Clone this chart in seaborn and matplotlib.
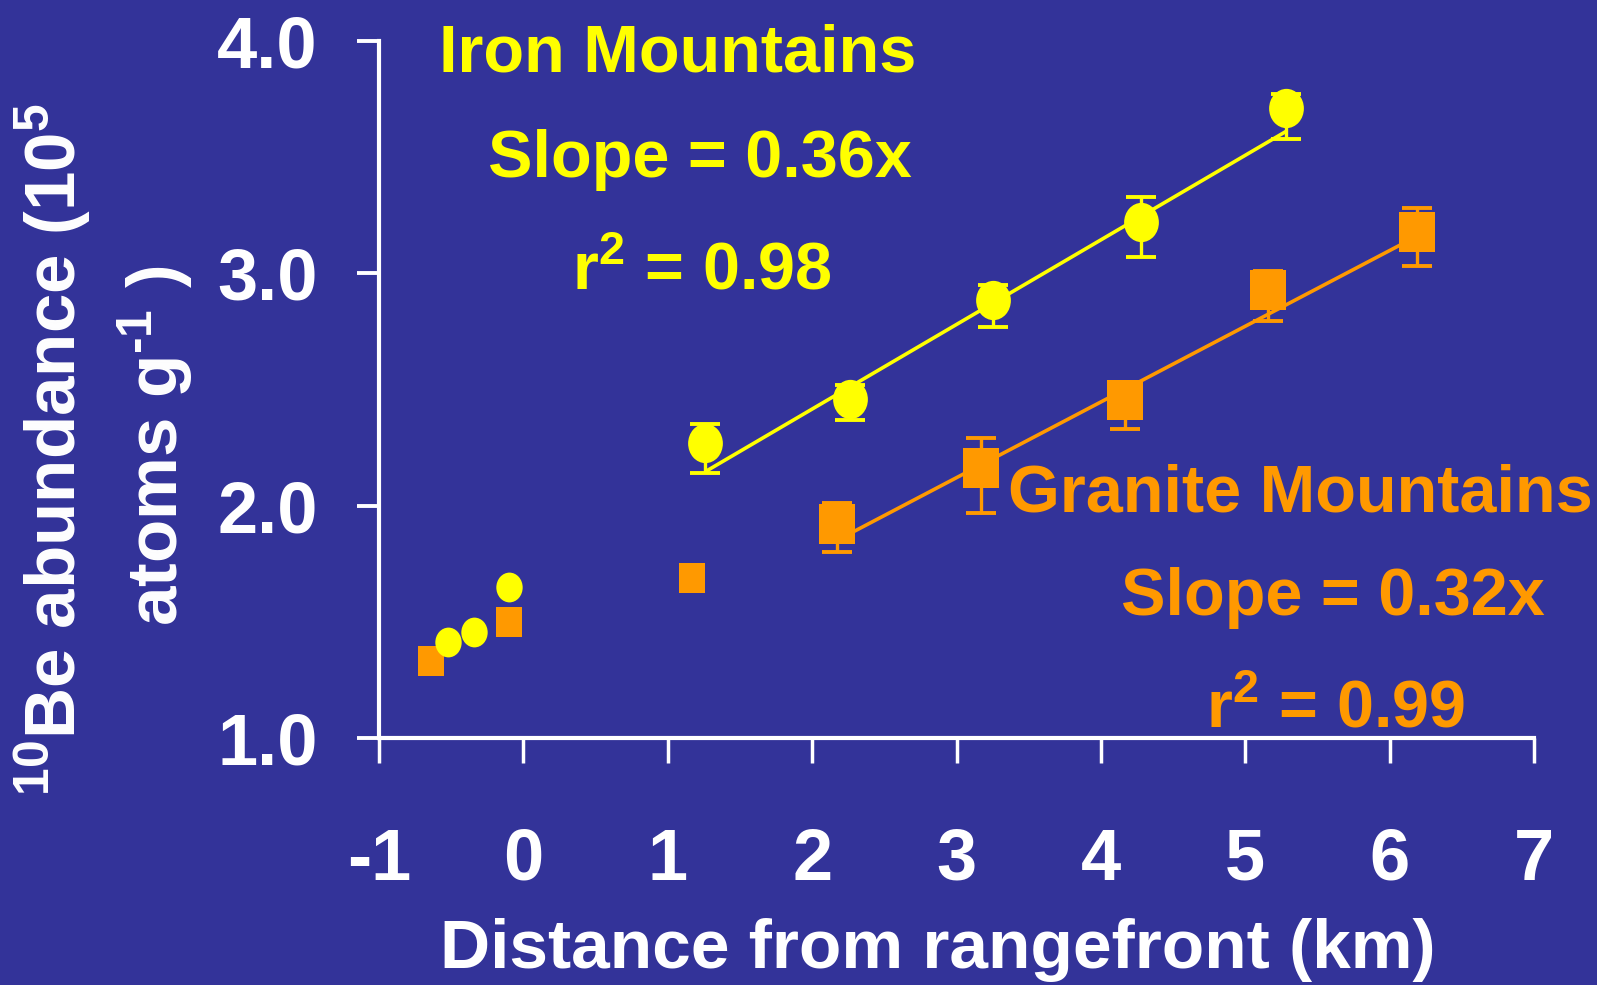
import pandas as pd
import seaborn as sns
import matplotlib.pyplot as plt
from matplotlib.path import Path

# Valores (distância em km, 10Be em 10^5 atoms/g)
iron_near_x = [-0.52, -0.34, -0.10]
iron_near_y = [1.415, 1.458, 1.649]
iron_fan_x = [1.26, 2.26, 3.25, 4.28, 5.28]
iron_fan_y = [2.27, 2.46, 2.885, 3.22, 3.71]
iron_fan_lo = [2.14, 2.37, 2.77, 3.07, 3.58]
iron_fan_hi = [2.35, 2.52, 2.95, 3.33, 3.77]
iron_fit_x = [1.27, 5.28]
iron_fit_y = [2.15, 3.61]

granite_near_x = [-0.64, -0.10, 1.17]
granite_near_y = [1.33, 1.50, 1.69]
granite_fan_x = [2.17, 3.17, 4.17, 5.16, 6.19]
granite_fan_y = [1.92, 2.16, 2.455, 2.93, 3.18]
granite_fan_lo = [1.80, 1.97, 2.33, 2.795, 3.03]
granite_fan_hi = [2.01, 2.29, 2.53, 3.01, 3.28]
granite_fit_x = [2.17, 6.19]
granite_fit_y = [1.85, 3.16]

x_ticks = [-1, 0, 1, 2, 3, 4, 5, 6, 7]
y_ticks = [1.0, 2.0, 3.0, 4.0]

iron_labels = ["Iron Mountains", "Slope = 0.36x", r"r$^{2}$ = 0.98"]
granite_labels = ["Granite Mountains", "Slope = 0.32x", r"r$^{2}$ = 0.99"]

BG = "#333399"
YELLOW = "#FFFF00"
ORANGE = "#FF9900"
W, H = 1597, 985

sns.set_theme(style="ticks", rc={
    "figure.facecolor": BG, "axes.facecolor": BG,
    "axes.edgecolor": "white", "axes.linewidth": 3,
    "xtick.color": "white", "ytick.color": "white",
    "text.color": "white", "axes.unicode_minus": False,
})
plt.rcParams["font.family"] = ["Liberation Sans", "DejaVu Sans"]
plt.rcParams["font.weight"] = "bold"
plt.rcParams["mathtext.fontset"] = "custom"
plt.rcParams["mathtext.default"] = "regular"

# marcadores: elipse e retângulo um pouco mais altos que largos
circ = Path.unit_circle()
ellipse = Path(circ.vertices * [1.0, 1.13], circ.codes)
rect = Path([(-0.9, -1), (0.9, -1), (0.9, 1), (-0.9, 1), (-0.9, -1)],
            [Path.MOVETO, Path.LINETO, Path.LINETO, Path.LINETO, Path.CLOSEPOLY])

fig = plt.figure(figsize=(W / 100, H / 100), dpi=100)
ax = fig.add_axes([379 / W, 1 - 738 / H, 1155 / W, 697 / H])


def px(x, y):
    return x / W, 1 - y / H


for fx, fy, col in [(iron_fit_x, iron_fit_y, YELLOW), (granite_fit_x, granite_fit_y, ORANGE)]:
    sns.lineplot(x=fx, y=fy, color=col, lw=2.6, ax=ax, zorder=2)

for x, y, lo, hi, col in [(iron_fan_x, iron_fan_y, iron_fan_lo, iron_fan_hi, YELLOW),
                          (granite_fan_x, granite_fan_y, granite_fan_lo, granite_fan_hi, ORANGE)]:
    df = pd.DataFrame({"x": x, "y": y, "lo": lo, "hi": hi})
    ax.errorbar(df["x"], df["y"], yerr=[df["y"] - df["lo"], df["hi"] - df["y"]],
                fmt="none", ecolor=col, elinewidth=2.4, capsize=11, capthick=2.8, zorder=3)
    sns.scatterplot(data=df, x="x", y="y", marker=ellipse if col == YELLOW else rect,
                    s=800, color=col, linewidth=0, ax=ax, zorder=4)

sns.scatterplot(x=granite_near_x, y=granite_near_y, marker=rect, s=450,
                color=ORANGE, linewidth=0, ax=ax, zorder=4)
sns.scatterplot(x=iron_near_x, y=iron_near_y, marker=ellipse, s=460,
                color=YELLOW, linewidth=0, ax=ax, zorder=5)

ax.set_xlim(-1, 7)
ax.set_ylim(1, 4)
ax.set_xticks(x_ticks)
ax.set_xticklabels([str(t) for t in x_ticks])
ax.set_yticks(y_ticks)
ax.set_yticklabels([f"{t:.1f}" for t in y_ticks])
ax.tick_params(axis="x", length=18, width=2.5, pad=46, labelsize=52)
ax.tick_params(axis="y", length=16, width=2.8, pad=28, labelsize=52)
for lab in ax.get_xticklabels() + ax.get_yticklabels():
    lab.set_fontweight("bold")
sns.despine(ax=ax)
ax.set_xlabel("")
ax.set_ylabel("")

# textos de anotação
for (cx, by), txt in zip([(678, 72), (700, 177), (702, 290)], iron_labels):
    fig.text(*px(cx, by), txt, color=YELLOW, fontsize=48, fontweight="bold",
             ha="center", va="baseline")
for (cx, by), txt in zip([(1300, 512), (1333, 615), (1336, 727)], granite_labels):
    fig.text(*px(cx, by), txt, color=ORANGE, fontsize=48, fontweight="bold",
             ha="center", va="baseline")

fig.text(*px(938, 968), "Distance from rangefront (km)", fontsize=50,
         fontweight="bold", ha="center", va="baseline")
fig.text(*px(76, 449), r"$^{10}$Be abundance (10$^{5}$", fontsize=51, fontweight="bold",
         rotation=90, rotation_mode="anchor", ha="center", va="baseline")
fig.text(*px(178, 446), "atoms g$^{\u20101}$ )", fontsize=51, fontweight="bold",
         rotation=90, rotation_mode="anchor", ha="center", va="baseline")

fig.savefig("out.png", dpi=100, facecolor=BG)
